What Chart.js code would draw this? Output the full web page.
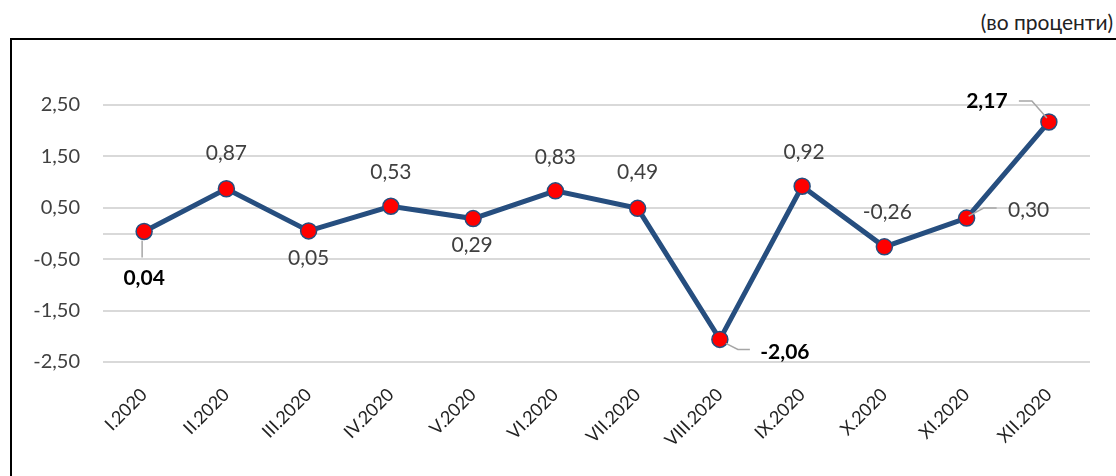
<!DOCTYPE html>
<html>
<head>
<meta charset="utf-8">
<script src="https://cdn.jsdelivr.net/npm/chart.js@4"></script>
<style>
    body { margin: 0; width: 1116px; height: 476px; overflow: hidden; background: #fff; position: relative; font-family: Lato, sans-serif; }
    #frame { position: absolute; left: 10px; top: 38px; width: 1200px; height: 500px; border-left: 2px solid #000; border-top: 2px solid #000; }
    #unit { position: absolute; right: 3px; top: 9px; font-size: 21px; color: #222; }
    #wrap { position: absolute; left: 0; top: 0; width: 1116px; height: 476px; }
</style>
</head>
<body>
<div id="frame"></div>
<div id="unit">(во проценти)</div>
<div id="wrap"><canvas id="lineChart"></canvas></div>
<script>
// Data
const months = ['I.2020', 'II.2020', 'III.2020', 'IV.2020', 'V.2020', 'VI.2020',
    'VII.2020', 'VIII.2020', 'IX.2020', 'X.2020', 'XI.2020', 'XII.2020'];
const values = [0.04, 0.87, 0.05, 0.53, 0.29, 0.83, 0.49, -2.06, 0.92, -0.26, 0.30, 2.17];
const yTicks = [-2.5, -1.5, -0.5, 0, 0.5, 1.5, 2.5];
const boldLabels = [0, 7, 11];

// label placement: offset from point, optional leader polyline (relative to point)
const labelPos = [
    { dx: 0, dy: 47, lead: [[-2, 9], [-2, 26]] },
    { dx: 0, dy: -36 },
    { dx: 0, dy: 27 },
    { dx: 0, dy: -34 },
    { dx: -1, dy: 27 },
    { dx: 0, dy: -34 },
    { dx: 0, dy: -36 },
    { dx: 65, dy: 13, lead: [[6, 4], [18, 10], [30, 10]] },
    { dx: 2, dy: -34 },
    { dx: 3, dy: -35 },
    { dx: 62, dy: -8, lead: [[2, -2], [17, -10], [30, -10]] },
    { dx: -62, dy: -21, lead: [[-2, -4], [-17, -21], [-30, -21]] }
];

const fmt = (v) => v.toFixed(2).replace('.', ',');

const dataLabels = {
    id: 'dataLabels',
    afterDatasetsDraw(chart) {
        const ctx = chart.ctx;
        const meta = chart.getDatasetMeta(0);
        ctx.save();
        meta.data.forEach((pt, i) => {
            const p = labelPos[i];
            if (p.lead) {
                ctx.beginPath();
                ctx.strokeStyle = '#a6a6a6';
                ctx.lineWidth = 1.5;
                p.lead.forEach((q, j) => {
                    if (j === 0) ctx.moveTo(pt.x + q[0], pt.y + q[1]);
                    else ctx.lineTo(pt.x + q[0], pt.y + q[1]);
                });
                ctx.stroke();
            }
            const bold = boldLabels.includes(i);
            ctx.font = (bold ? 'bold ' : '') + '21px Lato';
            ctx.fillStyle = bold ? '#000' : '#404040';
            ctx.textAlign = 'center';
            ctx.textBaseline = 'middle';
            ctx.fillText(fmt(values[i]), pt.x + p.dx, pt.y + p.dy);
        });
        ctx.restore();
    }
};

new Chart(document.getElementById('lineChart').getContext('2d'), {
    type: 'line',
    data: {
        labels: months,
        datasets: [{
            data: values,
            borderColor: '#264e7f',
            borderWidth: 5,
            pointRadius: 8,
            pointBackgroundColor: '#ff0000',
            pointBorderColor: '#264e7f',
            pointBorderWidth: 1.5,
            tension: 0
        }]
    },
    options: {
        responsive: true,
        maintainAspectRatio: false,
        animation: false,
        layout: { padding: { top: 105, right: 26, left: 0, bottom: 0 } },
        plugins: {
            legend: { display: false },
            tooltip: { enabled: false }
        },
        scales: {
            y: {
                min: -2.5,
                max: 2.5,
                afterBuildTicks: (axis) => { axis.ticks = yTicks.map(v => ({ value: v })); },
                afterFit: (axis) => { axis.width = 103; },
                ticks: {
                    font: { family: 'Lato', size: 20 },
                    color: '#404040',
                    padding: 23,
                    callback: (val) => val === 0 ? '' : fmt(val)
                },
                grid: { color: '#d9d9d9', lineWidth: 2, drawTicks: false },
                border: { display: false }
            },
            x: {
                offset: true,
                afterFit: (axis) => { axis.height = 114; },
                ticks: {
                    font: { family: 'Lato', size: 18 },
                    color: '#222',
                    minRotation: 45,
                    maxRotation: 45,
                    padding: 14
                },
                grid: { display: false },
                border: { display: false }
            }
        }
    },
    plugins: [dataLabels]
});
</script>
</body>
</html>
